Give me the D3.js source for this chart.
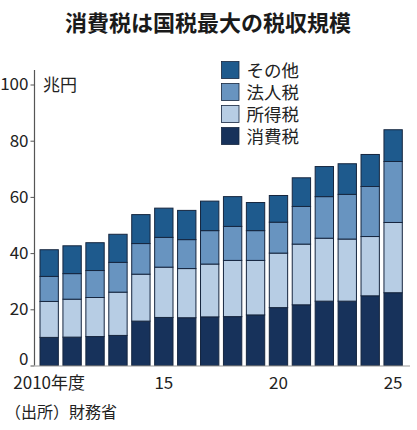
<!DOCTYPE html>
<html>
<head>
<meta charset="utf-8">
<script src="https://cdn.jsdelivr.net/npm/d3@7"></script>
<style>
  html, body { margin: 0; padding: 0; background: #fff; }
  svg { display: block; font-family: "Noto Sans CJK JP", "Noto Sans", sans-serif; }
</style>
</head>
<body>
<div id="chart"></div>
<script>
// fiscal years 2010-2025, 兆円
const years = [2010, 2011, 2012, 2013, 2014, 2015, 2016, 2017, 2018, 2019, 2020, 2021, 2022, 2023, 2024, 2025];
const consumption = [10.0, 10.1, 10.3, 10.7, 15.8, 17.1, 17.0, 17.3, 17.4, 18.0, 20.6, 21.6, 22.9, 22.9, 24.8, 25.9];
const income = [12.8, 13.5, 13.9, 15.4, 16.7, 17.9, 17.5, 18.8, 20.0, 19.4, 19.4, 21.6, 22.4, 22.1, 21.1, 25.0];
const corporate = [8.9, 9.1, 9.6, 10.6, 10.9, 10.6, 10.3, 11.9, 12.1, 10.6, 11.0, 13.4, 14.8, 15.9, 17.8, 21.7];
const other = [9.5, 9.9, 9.9, 10.0, 10.3, 10.4, 10.4, 10.5, 10.6, 10.0, 9.5, 10.2, 10.7, 10.9, 11.4, 11.3];

const seriesKeys = ["消費税", "所得税", "法人税", "その他"];
const seriesColors = ["#17325b", "#b7cde4", "#6894c0", "#1e5a8d"];
const yTicks = [0, 20, 40, 60, 80, 100];
const xLabels = { 2010: "2010年度", 2015: "15", 2020: "20", 2025: "25" };

const width = 417, height = 430;

const rows = years.map((y, i) => ({
  year: y,
  "消費税": consumption[i],
  "所得税": income[i],
  "法人税": corporate[i],
  "その他": other[i],
}));

const stacked = d3.stack().keys(seriesKeys)(rows);

const svg = d3.select("#chart").append("svg")
  .attr("width", width)
  .attr("height", height);

svg.append("rect").attr("width", width).attr("height", height).attr("fill", "#fff");

const x = d3.scaleBand().domain(years).range([40, 402.3]).paddingInner(0.2).paddingOuter(0);
const y = d3.scaleLinear().domain([0, 100]).range([365.5, 84.5]);
const color = d3.scaleOrdinal(seriesKeys, seriesColors);

// title
svg.append("text")
  .attr("x", 208).attr("y", 31)
  .attr("text-anchor", "middle")
  .attr("font-size", 22).attr("font-weight", "bold")
  .attr("fill", "#1a1a1a")
  .text("消費税は国税最大の税収規模");

// bars
svg.append("g")
  .selectAll("g")
  .data(stacked)
  .join("g")
  .attr("fill", (d) => color(d.key))
  .selectAll("rect")
  .data((d) => d)
  .join("rect")
  .attr("x", (d) => x(d.data.year))
  .attr("y", (d) => y(d[1]))
  .attr("width", x.bandwidth())
  .attr("height", (d) => y(d[0]) - y(d[1]))
  .attr("stroke", "#16263f")
  .attr("stroke-width", 1);

// y axis
const yAxis = svg.append("g")
  .attr("transform", "translate(34.5,0)")
  .call(d3.axisLeft(y).tickValues(yTicks).tickSize(4).tickPadding(2).tickSizeOuter(0));
yAxis.select(".domain").remove();
yAxis.selectAll(".tick line").attr("stroke", "#555");
yAxis.selectAll("text").attr("font-size", 17).attr("fill", "#222")
  .attr("font-family", "\"Noto Sans CJK JP\", sans-serif");
// the zero label sits a little higher, clear of the year labels
yAxis.selectAll(".tick").filter((d) => d === 0).select("text").attr("dy", "-0.05em");
svg.append("line")
  .attr("x1", 34.5).attr("x2", 34.5)
  .attr("y1", 70).attr("y2", y(0))
  .attr("stroke", "#555").attr("stroke-width", 1.2);

// unit
svg.append("text")
  .attr("x", 43).attr("y", 91)
  .attr("font-size", 17).attr("fill", "#222")
  .text("兆円");

// x axis
svg.append("line")
  .attr("x1", 34.5).attr("x2", 410)
  .attr("y1", y(0) + 0.5).attr("y2", y(0) + 0.5)
  .attr("stroke", "#999").attr("stroke-width", 1.2);

svg.append("g")
  .selectAll("text")
  .data(years.filter((d) => xLabels[d]))
  .join("text")
  .attr("x", (d) => x(d) + x.bandwidth() / 2)
  .attr("y", 389)
  .attr("text-anchor", "middle")
  .attr("font-size", 17).attr("fill", "#222")
  .text((d) => xLabels[d]);

// legend (reverse order, top = その他)
const legendKeys = seriesKeys.slice().reverse();
const legend = svg.append("g").attr("transform", "translate(221.5,61.5)");
const item = legend.selectAll("g")
  .data(legendKeys)
  .join("g")
  .attr("transform", (d, i) => `translate(0,${i * 22})`);
item.append("rect")
  .attr("width", 17.5).attr("height", 17)
  .attr("fill", (d) => color(d))
  .attr("stroke", "#16263f").attr("stroke-width", 0.8);
item.append("text")
  .attr("x", 25).attr("y", 15)
  .attr("font-size", 17.5).attr("fill", "#222")
  .text((d) => d);

// source
svg.append("text")
  .attr("x", 5).attr("y", 418)
  .attr("font-size", 16).attr("fill", "#222")
  .text("（出所）財務省");
</script>
</body>
</html>
